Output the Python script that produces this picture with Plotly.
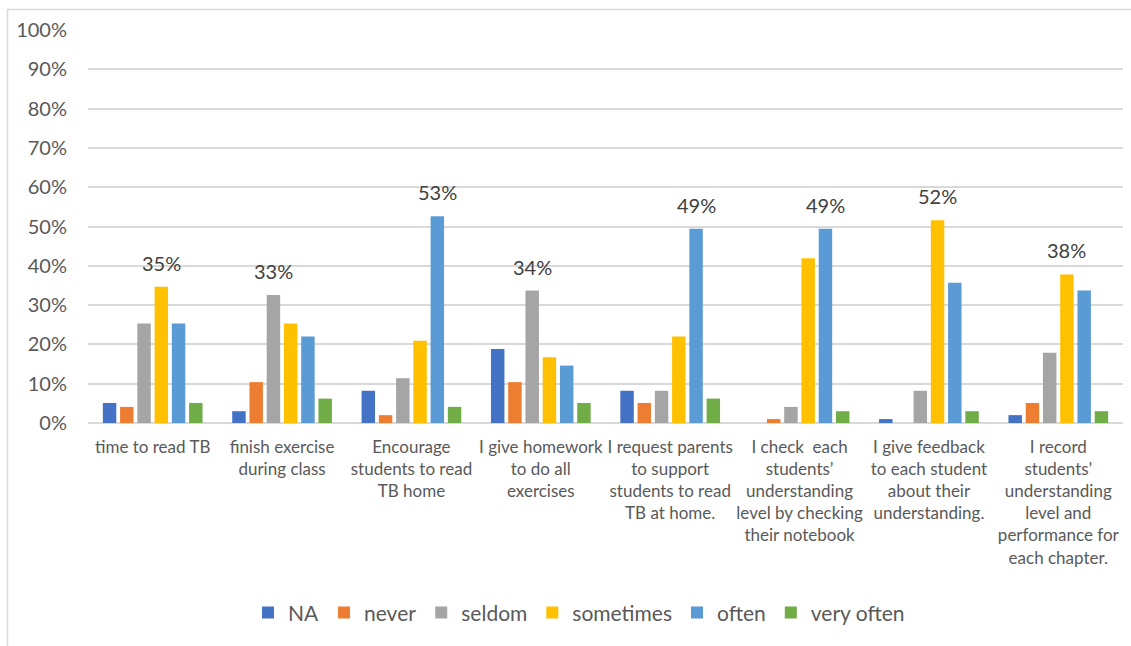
import plotly.graph_objects as go

# Survey items (x categories), wrapped the way they appear under the axis
categories = [
    "time to read TB",
    "finish exercise<br>during class",
    "Encourage<br>students to read<br>TB home",
    "I give homework<br>to do all<br>exercises",
    "I request parents<br>to support<br>students to read<br>TB at home.",
    "I check  each<br>students’<br>understanding<br>level by checking<br>their notebook",
    "I give feedback<br>to each student<br>about their<br>understanding.",
    "I record<br>students’<br>understanding<br>level and<br>performance for<br>each chapter.",
]

# Share of responses per frequency level (percent)
na         = [5.1, 3.0, 8.2, 18.8, 8.2, 0.0, 1.0, 2.0]
never      = [4.1, 10.4, 2.0, 10.4, 5.1, 1.0, 0.0, 5.1]
seldom     = [25.3, 32.6, 11.4, 33.7, 8.2, 4.1, 8.2, 17.9]
sometimes  = [34.7, 25.3, 20.9, 16.7, 22.0, 41.9, 51.6, 37.8]
often      = [25.3, 22.0, 52.6, 14.6, 49.4, 49.4, 35.7, 33.7]
very_often = [5.1, 6.2, 4.1, 5.1, 6.2, 3.0, 3.0, 3.0]

series_names = ["NA", "never", "seldom", "sometimes", "often", "very often"]
series_values = [na, never, seldom, sometimes, often, very_often]
series_colors = ["#4472C4", "#ED7D31", "#A5A5A5", "#FFC000", "#5B9BD5", "#70AD47"]

y_ticks = list(range(0, 101, 10))

W, H = 1131, 646
PLOT_L, PLOT_R, PLOT_T, PLOT_B = 88, 1123, 30, 423.5
BARGAP = 0.2
BARGROUPGAP = 0.22
FONT = "Lato"
TEXT_COLOR = "#595959"

fig = go.Figure()
for name, vals, color in zip(series_names, series_values, series_colors):
    fig.add_trace(go.Bar(
        name=name,
        x=categories,
        y=vals,
        marker=dict(color=color, line=dict(width=0)),
    ))

# Highest share in each item, labelled above its bar
plot_w = PLOT_R - PLOT_L
slot = plot_w / len(categories) * (1 - BARGAP) / len(series_names)
n = len(series_names)
for ci, cat in enumerate(categories):
    col = [s[ci] for s in series_values]
    top = max(col)
    idx = col.index(top)
    fig.add_annotation(
        x=cat, y=top,
        xref="x", yref="y",
        text=f"{round(top):.0f}%",
        showarrow=False,
        xshift=(idx - (n - 1) / 2) * slot,
        yshift=10,
        yanchor="bottom",
        font=dict(family=FONT, size=20, color="#404040"),
    )

# Light chart-area border
def px_to_paper_x(px):
    return (px - PLOT_L) / plot_w

def px_to_paper_y(py):
    return (PLOT_B - py) / (PLOT_B - PLOT_T)

fig.add_shape(
    type="rect", xref="paper", yref="paper",
    x0=px_to_paper_x(7.5), x1=px_to_paper_x(1140),
    y0=px_to_paper_y(660), y1=px_to_paper_y(9.5),
    line=dict(color="#D9D9D9", width=1.5),
    fillcolor="rgba(0,0,0,0)",
    layer="below",
)

fig.update_layout(
    width=W, height=H,
    margin=dict(l=PLOT_L, r=W - PLOT_R, t=PLOT_T, b=H - PLOT_B, autoexpand=False),
    paper_bgcolor="white",
    plot_bgcolor="white",
    barmode="group",
    bargap=BARGAP,
    bargroupgap=BARGROUPGAP,
    font=dict(family=FONT, color=TEXT_COLOR),
    showlegend=True,
    legend=dict(
        orientation="h",
        x=px_to_paper_x(579), xanchor="center",
        y=px_to_paper_y(613.5), yanchor="middle",
        font=dict(family=FONT, size=21, color=TEXT_COLOR),
        bgcolor="rgba(0,0,0,0)",
        traceorder="normal",
    ),
    xaxis=dict(
        showgrid=False,
        showline=False,
        ticks="",
        tickangle=0,
        tickfont=dict(family=FONT, size=17, color=TEXT_COLOR),
        ticklabelstandoff=12,
    ),
    yaxis=dict(
        range=[0, 100],
        tickvals=y_ticks,
        ticktext=[f"{v}%" for v in y_ticks],
        showgrid=True,
        gridcolor="#D9D9D9",
        gridwidth=1.5,
        zeroline=True,
        zerolinecolor="#D9D9D9",
        zerolinewidth=1.5,
        showline=False,
        ticks="",
        tickfont=dict(family=FONT, size=20, color=TEXT_COLOR),
        ticklabelstandoff=20,
    ),
)

fig.write_html("out.html")
